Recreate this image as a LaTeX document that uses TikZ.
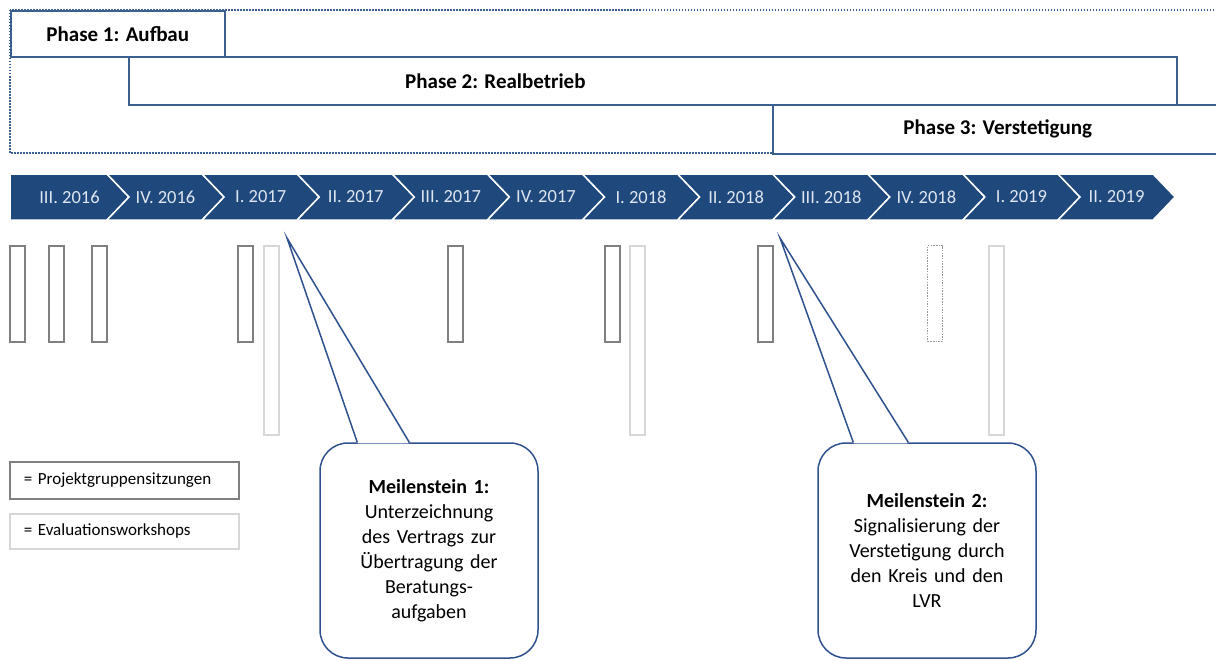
\documentclass[tikz,border=0pt]{standalone}
\usepackage{fontspec}
\setmainfont{Carlito}
\usetikzlibrary{positioning,calc}

\definecolor{phaseblue}{RGB}{60,96,146}
\definecolor{chevblue}{RGB}{31,73,125}
\definecolor{chevtext}{RGB}{222,230,240}
\definecolor{pggray}{RGB}{128,128,128}
\definecolor{evgray}{RGB}{215,215,215}
\definecolor{calloutblue}{RGB}{47,82,143}

\tikzset{
  phasebox/.style={draw=phaseblue, line width=1.6pt, fill=white, anchor=north west, inner sep=0pt, font=\fontsize{21}{25}\selectfont\bfseries},
  phaselabel/.style={inner sep=0pt, font=\fontsize{21}{25}\selectfont\bfseries},
  chevron/.style={fill=chevblue, draw=white, line width=1.5pt},
  quarter/.style={text=chevtext, inner sep=0pt, font=\fontsize{18.5}{22}\selectfont},
  pgrect/.style={draw=pggray, line width=1.5pt, anchor=north west, minimum width=15pt, minimum height=96pt, inner sep=0pt},
  evrect/.style={draw=evgray, line width=1.5pt, anchor=north west, minimum width=15pt, minimum height=189pt, inner sep=0pt},
  legendbox/.style={line width=1.5pt, anchor=north west, text width=201pt, inner xsep=14pt, inner ysep=0pt, align=left, font=\fontsize{17}{20}\selectfont},
  msbox/.style={draw=calloutblue, line width=1.5pt, fill=white, rounded corners=28pt, minimum width=218pt, minimum height=215pt, text width=200pt, align=center, inner sep=0pt, font=\fontsize{20}{25}\selectfont},
  pointer/.style={draw=calloutblue, line width=1.5pt},
}

\begin{document}
\begin{tikzpicture}[x=1pt,y=-1pt]
	\useasboundingbox (0,0) rectangle (1216,661);
	\clip (0,0) rectangle (1216,661);
	%Phasen
	%===========================================================
	\draw[phaseblue, line width=1.3pt, dash pattern=on 1.5pt off 1.5pt] (10,10) rectangle (1240,153); %outer frame
	\node[phasebox, minimum width=214pt, minimum height=46pt] (ph1) at (10,10) {Phase 1: Aufbau};
	\node[phasebox, minimum width=1048pt, minimum height=48pt] (ph2) at (128,56) {};
	\node[phaselabel, right=277pt of ph2.west] (ph2lab) {Phase 2: Realbetrieb};
	\node[phasebox, minimum width=450pt, minimum height=49pt] (ph3) at (772,104) {Phase 3: Verstetigung};
	%Quartale
	%===========================================================
	\def \dx {95.1} %width of one quarter
	\def \dd {22} %depth of the point
	\foreach \lab [count=\i from 0] in {III. 2016,IV. 2016,I. 2017,II. 2017,III. 2017,IV. 2017,I. 2018,II. 2018,III. 2018,IV. 2018,I. 2019,II. 2019}{
		\pgfmathsetmacro \xr {107+\dx*\i}
		\pgfmathsetmacro \xl {\i==0 ? 10 : \xr-\dx}
		\pgfmathsetmacro \xn {\i==0 ? 10 : \xl+\dd}
		\draw[chevron] (\xl,174) -- (\xr,174) -- (\xr+\dd,197) -- (\xr,220) -- (\xl,220) -- (\xn,197) -- cycle;
		\node[quarter] (q\i) at ({(\xl+\xr+\dd)/2},197) {\lab};
	}
	%Sitzungen und Workshops
	%===========================================================
	\foreach \x [count=\k] in {9,48,91,237,447,604,757}
		\node[pgrect] (pg\k) at (\x,245) {};
	\node[pgrect, draw=pggray!80, line width=1.3pt, dash pattern=on 1.5pt off 1.2pt] (pg8) at (927,245) {}; %geplant
	\foreach \x [count=\k] in {263,629,988}
		\node[evrect] (ev\k) at (\x,245) {};
	%Legende
	\node[legendbox, draw=pggray, minimum height=37pt] (leg1) at (9,461) {= Projektgruppensitzungen};
	\node[legendbox, draw=evgray, minimum height=35pt] (leg2) at (9,513) {= Evaluationsworkshops};
	%Meilensteine
	%===========================================================
	\coordinate (tip1) at (287,238); %pointer of milestone 1
	\coordinate (tip2) at (780,238); %pointer of milestone 2
	\node[msbox] (ms1) at (429,550.5) {\textbf{Meilenstein 1:}\\Unterzeichnung\\des Vertrags zur\\Übertragung der\\Beratungs-\\aufgaben};
	\coordinate (ms1a) at ($(ms1.north west)+(38,0)$);
	\coordinate (ms1b) at ($(ms1.north west)+(90,0)$);
	\fill[white] ($(ms1a)+(0.6,1.2)$) -- (tip1) -- ($(ms1b)+(-0.6,1.2)$) -- cycle; %open the top edge
	\draw[pointer] (ms1a) -- (tip1) -- (ms1b);
	\node[msbox] (ms2) at (927,550.5) {\textbf{Meilenstein 2:}\\Signalisierung der\\Verstetigung durch\\den Kreis und den\\LVR};
	\coordinate (ms2a) at ($(ms2.north west)+(36,0)$);
	\coordinate (ms2b) at ($(ms2.north west)+(91,0)$);
	\fill[white] ($(ms2a)+(0.6,1.2)$) -- (tip2) -- ($(ms2b)+(-0.6,1.2)$) -- cycle;
	\draw[pointer] (ms2a) -- (tip2) -- (ms2b);
\end{tikzpicture}
\end{document}
